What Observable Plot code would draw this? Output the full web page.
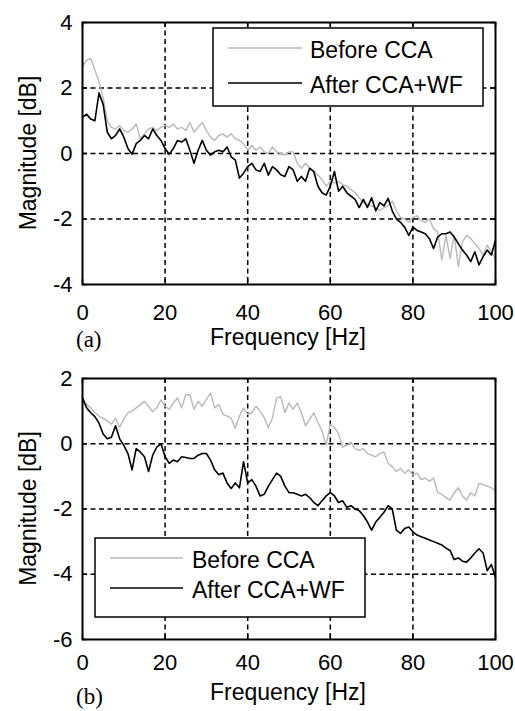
<!DOCTYPE html>
<html><head><meta charset="utf-8">
<script src="https://cdn.jsdelivr.net/npm/d3@7"></script>
<script src="https://cdn.jsdelivr.net/npm/@observablehq/plot@0.6"></script>
<style>
body{margin:0;background:#fff;}
#wrap{position:relative;width:515px;height:711px;overflow:hidden;background:#fff;}
#wrap svg{position:absolute;left:0;}
</style></head><body><div id="wrap"></div>
<script>
const freq = [0,1,2,3,4,5,6,7,8,9,10,11,12,13,14,15,16,17,18,19,20,21,22,23,24,25,26,27,28,29,30,31,32,33,34,35,36,37,38,39,40,41,42,43,44,45,46,47,48,49,50,51,52,53,54,55,56,57,58,59,60,61,62,63,64,65,66,67,68,69,70,71,72,73,74,75,76,77,78,79,80,81,82,83,84,85,86,87,88,89,90,91,92,93,94,95,96,97,98,99,100];
const xTicks = [0,20,40,60,80,100];
const yTicksA = [-4,-2,0,2,4];
const yTicksB = [-6,-4,-2,0,2];
const seriesNames = ["Before CCA","After CCA+WF"];
const xTitle = "Frequency [Hz]";
const yTitle = "Magnitude [dB]";

const topBefore = [2.65,2.85,2.9,2.55,2.2,1.7,1.0,0.8,0.75,0.85,
 0.7,0.65,0.75,0.9,0.45,0.6,0.75,0.8,0.7,0.8,
 0.85,0.8,0.9,0.75,0.8,0.7,0.95,0.65,0.8,0.95,
 0.7,0.5,0.4,0.55,0.6,0.5,0.6,0.45,0.4,0.3,
 0.1,0.25,0.1,0.2,0.05,0.0,0.2,0.05,0.0,-0.05,
 0.05,0.05,-0.3,-0.45,-0.3,-0.45,-0.55,-0.65,-0.8,-1.0,
 -0.85,-0.9,-0.85,-0.95,-1.0,-1.1,-1.2,-1.35,-1.5,-1.55,
 -1.6,-1.65,-1.75,-1.65,-1.6,-1.45,-1.75,-1.95,-2.0,-2.1,
 -1.95,-1.9,-2.05,-2.1,-2.0,-2.3,-2.4,-3.25,-2.5,-3.2,
 -2.5,-3.45,-2.7,-2.5,-2.6,-2.75,-2.9,-3.1,-2.8,-3.0,
 -3.2];
const topAfter = [1.1,1.2,1.05,1.0,1.85,1.5,0.65,0.45,0.55,0.75,
 0.5,0.15,-0.02,0.3,0.4,0.55,0.45,0.75,0.55,0.4,
 0.15,-0.02,0.15,0.4,0.35,0.45,0.1,-0.3,0.1,0.4,
 0.1,-0.05,0.05,0.1,0.05,0.2,-0.1,-0.2,-0.75,-0.6,
 -0.4,-0.3,-0.5,-0.55,-0.3,-0.66,-0.4,-0.5,-0.65,-0.7,
 -0.4,-0.5,-0.85,-0.7,-0.85,-0.45,-0.55,-1.0,-1.2,-1.27,
 -1.0,-0.55,-1.15,-1.0,-1.2,-1.3,-1.4,-1.65,-1.4,-1.65,
 -1.35,-1.75,-1.5,-1.6,-1.37,-1.75,-2.0,-2.1,-2.25,-2.5,
 -2.25,-2.35,-2.4,-2.45,-2.6,-2.9,-2.55,-2.45,-2.45,-2.4,
 -2.55,-2.75,-2.95,-3.1,-3.3,-3.0,-3.4,-3.15,-2.95,-3.1,
 -2.65];
const bottomBefore = [1.4,1.2,1.1,0.95,0.85,0.78,0.7,0.6,0.78,0.5,
 0.75,0.95,1.0,1.1,1.2,1.3,1.15,0.98,1.1,1.35,
 1.15,1.05,1.25,1.4,1.1,1.5,1.5,1.05,1.3,1.15,
 1.35,1.55,1.1,1.2,0.9,0.85,0.78,0.47,0.85,1.09,
 0.9,0.95,1.15,1.0,0.8,0.5,0.8,1.4,1.45,0.95,
 1.25,1.05,1.25,0.95,0.55,0.75,0.95,0.65,0.4,-0.05,
 0.6,0.5,0.3,-0.1,-0.05,0.05,-0.15,-0.2,-0.15,-0.3,
 -0.35,-0.4,-0.3,-0.25,-0.6,-0.7,-0.85,-0.75,-0.9,-0.8,
 -0.95,-0.9,-1.1,-1.05,-1.15,-1.05,-1.5,-1.55,-1.65,-1.73,
 -1.5,-1.35,-1.6,-1.73,-1.5,-1.6,-1.22,-1.25,-1.3,-1.35,
 -1.45];
const bottomAfter = [1.4,1.1,0.95,0.83,0.63,0.3,0.15,0.2,0.55,0.15,
 -0.05,-0.3,-0.8,-0.15,-0.25,-0.4,-0.85,-0.35,-0.1,0.0,
 -0.4,-0.6,-0.5,-0.55,-0.4,-0.42,-0.45,-0.45,-0.35,-0.3,
 -0.3,-0.5,-0.8,-0.95,-0.9,-1.2,-1.37,-1.2,-1.35,-0.55,
 -1.2,-1.1,-1.3,-1.6,-1.55,-1.3,-1.1,-0.9,-1.0,-1.3,
 -1.5,-1.5,-1.55,-1.6,-1.55,-1.65,-1.8,-1.9,-1.75,-1.6,
 -1.5,-1.6,-1.8,-1.75,-1.95,-1.9,-2.0,-2.05,-2.2,-2.4,
 -2.65,-2.4,-2.25,-2.1,-1.9,-2.0,-2.65,-2.75,-2.6,-2.55,
 -2.7,-2.8,-2.85,-2.9,-2.95,-3.0,-3.05,-3.1,-3.2,-3.27,
 -3.55,-3.5,-3.6,-3.63,-3.5,-3.35,-3.22,-3.35,-3.89,-3.7,
 -4.1];

const FONT = '"Liberation Sans", Arial, sans-serif';
const GRAY = "#b9b9b9";

function panel(o) {
  const rowsB = freq.map((f, i) => ({f, v: o.before[i]}));
  const rowsA = freq.map((f, i) => ({f, v: o.after[i]}));
  const W = 515, mL = 82, mR = 20;
  const fh = o.height - o.marginTop - o.marginBottom;
  const fw = W - mL - mR;
  const tick = 5;
  const grid = {stroke: "#000", strokeOpacity: 1, strokeWidth: 1.5, strokeDasharray: "5,3.5"};
  const svg = Plot.plot({
    width: W, height: o.height,
    marginLeft: mL, marginRight: mR, marginTop: o.marginTop, marginBottom: o.marginBottom,
    style: {fontFamily: FONT, fontSize: "22px", color: "#000", background: "transparent", overflow: "visible"},
    x: {domain: [0, 100], label: null},
    y: {domain: o.yDomain, label: null},
    marks: [
      Plot.gridX(xTicks.slice(1, -1), grid),
      Plot.gridY(o.yTicks.slice(1, -1), grid),
      Plot.ruleX(xTicks, {x: d => d, stroke: "#000", strokeWidth: 1.5, insetBottom: fh - tick}),
      Plot.ruleX(xTicks, {x: d => d, stroke: "#000", strokeWidth: 1.5, insetTop: fh - tick}),
      Plot.ruleY(o.yTicks, {y: d => d, stroke: "#000", strokeWidth: 1.5, insetRight: fw - tick}),
      Plot.ruleY(o.yTicks, {y: d => d, stroke: "#000", strokeWidth: 1.5, insetLeft: fw - tick}),
      Plot.line(rowsB, {x: "f", y: "v", stroke: GRAY, strokeWidth: 1.4}),
      Plot.line(rowsA, {x: "f", y: "v", stroke: "#000", strokeWidth: 1.6}),
      Plot.axisX(xTicks, {anchor: "bottom", tickSize: 0, tickPadding: o.xPad, tickFormat: d => String(d), fontSize: 22, label: null}),
      Plot.axisY(o.yTicks, {anchor: "left", tickSize: 0, tickPadding: 10, tickFormat: d => String(d), fontSize: 22, label: null}),
      Plot.frame({stroke: "#000", strokeWidth: 2})
    ]
  });
  svg.style.top = o.top + "px";
  const s = d3.select(svg);
  // legend
  const L = o.legend;
  const g = s.append("g");
  g.append("rect").attr("x", L.x).attr("y", L.y).attr("width", L.w).attr("height", L.h)
    .attr("fill", "#fff").attr("stroke", "#000").attr("stroke-width", 1.5);
  const colors = [GRAY, "#000"];
  seriesNames.forEach((name, i) => {
    const cy = L.y + L.row0 + i * L.dy;
    g.append("line").attr("x1", L.x + L.l0).attr("x2", L.x + L.l1).attr("y1", cy).attr("y2", cy)
      .attr("stroke", colors[i]).attr("stroke-width", i ? 1.6 : 1.4);
    g.append("text").attr("x", L.x + L.tx).attr("y", cy + 10).attr("text-anchor", "start").attr("font-family", FONT)
      .attr("font-size", 23).attr("fill", "#000").text(name);
  });
  // titles
  s.append("text").attr("x", 288).attr("y", o.xTitleY).attr("text-anchor", "middle")
    .attr("font-family", FONT).attr("font-size", 23).attr("fill", "#000").text(xTitle);
  s.append("text").attr("transform", `translate(36,${o.marginTop + fh / 2}) rotate(-90)`)
    .attr("text-anchor", "middle").attr("font-family", FONT).attr("font-size", 23).attr("fill", "#000").text(yTitle);
  s.append("text").attr("x", 76).attr("y", o.tagY).attr("text-anchor", "start").attr("font-family", '"Liberation Serif", "Times New Roman", serif')
    .attr("font-size", 23).attr("fill", "#000").text(o.tag);
  return svg;
}

const wrap = document.getElementById("wrap");
wrap.appendChild(panel({
  before: topBefore, after: topAfter, yDomain: [-4, 4], yTicks: yTicksA,
  top: 0, height: 355, marginTop: 22, marginBottom: 71, xPad: 20,
  legend: {x: 213, y: 28, w: 270, h: 78, row0: 20, dy: 35, l0: 15, l1: 89, tx: 97},
  xTitleY: 345, tagY: 347, tag: "(a)"
}));
wrap.appendChild(panel({
  before: bottomBefore, after: bottomAfter, yDomain: [-6, 2], yTicks: yTicksB,
  top: 355, height: 356, marginTop: 23, marginBottom: 72, xPad: 15,
  legend: {x: 95, y: 183, w: 270, h: 79, row0: 20, dy: 30, l0: 15, l1: 88, tx: 97},
  xTitleY: 345, tagY: 349, tag: "(b)"
}));
</script></body></html>
